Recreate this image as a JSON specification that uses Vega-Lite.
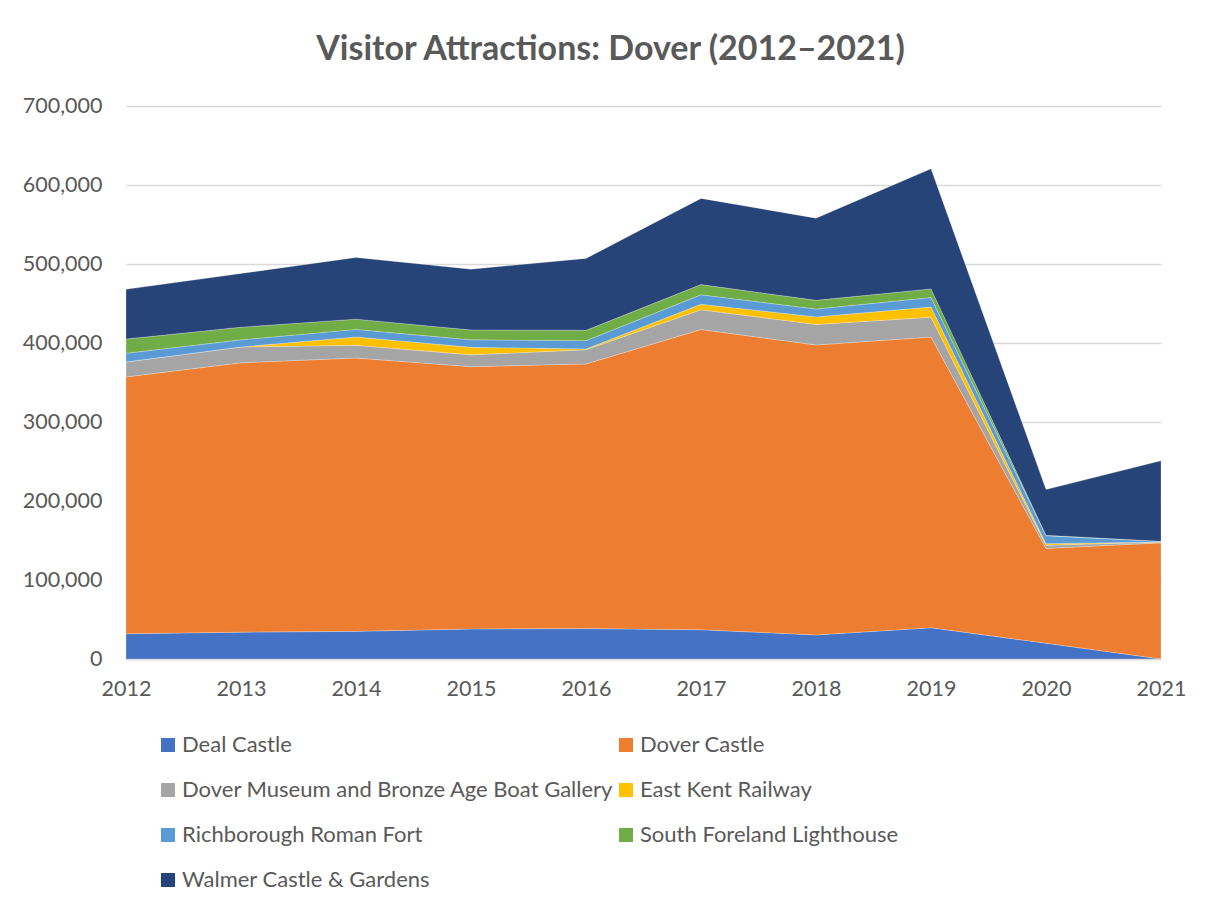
{
  "$schema": "https://vega.github.io/schema/vega-lite/v6.json",
  "autosize": {"type": "none"},
  "width": 1035,
  "height": 553,
  "padding": {"left": 126, "top": 106, "right": 49, "bottom": 249},
  "background": "white",
  "config": {"view": {"stroke": null}, "font": "Lato"},
  "title": {
    "text": "Visitor Attractions: Dover (2012–2021)",
    "anchor": "middle",
    "dx": -33,
    "offset": 1,
    "baseline": "alphabetic",
    "fontSize": 34,
    "fontWeight": "bold",
    "color": "#595959",
    "font": "Lato"
  },
  "data": {
    "values": [
      {"year": "2012", "attraction": "Deal Castle", "visitors": 32000},
      {"year": "2013", "attraction": "Deal Castle", "visitors": 34000},
      {"year": "2014", "attraction": "Deal Castle", "visitors": 35000},
      {"year": "2015", "attraction": "Deal Castle", "visitors": 38000},
      {"year": "2016", "attraction": "Deal Castle", "visitors": 38500},
      {"year": "2017", "attraction": "Deal Castle", "visitors": 37000},
      {"year": "2018", "attraction": "Deal Castle", "visitors": 30500},
      {"year": "2019", "attraction": "Deal Castle", "visitors": 39500},
      {"year": "2020", "attraction": "Deal Castle", "visitors": 20000},
      {"year": "2021", "attraction": "Deal Castle", "visitors": 0},
      {"year": "2012", "attraction": "Dover Castle", "visitors": 325000},
      {"year": "2013", "attraction": "Dover Castle", "visitors": 341000},
      {"year": "2014", "attraction": "Dover Castle", "visitors": 346000},
      {"year": "2015", "attraction": "Dover Castle", "visitors": 332000},
      {"year": "2016", "attraction": "Dover Castle", "visitors": 335000},
      {"year": "2017", "attraction": "Dover Castle", "visitors": 380000},
      {"year": "2018", "attraction": "Dover Castle", "visitors": 367000},
      {"year": "2019", "attraction": "Dover Castle", "visitors": 368000},
      {"year": "2020", "attraction": "Dover Castle", "visitors": 120000},
      {"year": "2021", "attraction": "Dover Castle", "visitors": 147000},
      {"year": "2012", "attraction": "Dover Museum and Bronze Age Boat Gallery", "visitors": 19000},
      {"year": "2013", "attraction": "Dover Museum and Bronze Age Boat Gallery", "visitors": 20000},
      {"year": "2014", "attraction": "Dover Museum and Bronze Age Boat Gallery", "visitors": 16000},
      {"year": "2015", "attraction": "Dover Museum and Bronze Age Boat Gallery", "visitors": 15000},
      {"year": "2016", "attraction": "Dover Museum and Bronze Age Boat Gallery", "visitors": 18000},
      {"year": "2017", "attraction": "Dover Museum and Bronze Age Boat Gallery", "visitors": 25000},
      {"year": "2018", "attraction": "Dover Museum and Bronze Age Boat Gallery", "visitors": 26000},
      {"year": "2019", "attraction": "Dover Museum and Bronze Age Boat Gallery", "visitors": 25000},
      {"year": "2020", "attraction": "Dover Museum and Bronze Age Boat Gallery", "visitors": 4000},
      {"year": "2021", "attraction": "Dover Museum and Bronze Age Boat Gallery", "visitors": 1000},
      {"year": "2012", "attraction": "East Kent Railway", "visitors": 0},
      {"year": "2013", "attraction": "East Kent Railway", "visitors": 0},
      {"year": "2014", "attraction": "East Kent Railway", "visitors": 10500},
      {"year": "2015", "attraction": "East Kent Railway", "visitors": 9500},
      {"year": "2016", "attraction": "East Kent Railway", "visitors": 1000},
      {"year": "2017", "attraction": "East Kent Railway", "visitors": 7000},
      {"year": "2018", "attraction": "East Kent Railway", "visitors": 9500},
      {"year": "2019", "attraction": "East Kent Railway", "visitors": 13000},
      {"year": "2020", "attraction": "East Kent Railway", "visitors": 2000},
      {"year": "2021", "attraction": "East Kent Railway", "visitors": 0},
      {"year": "2012", "attraction": "Richborough Roman Fort", "visitors": 11000},
      {"year": "2013", "attraction": "Richborough Roman Fort", "visitors": 9000},
      {"year": "2014", "attraction": "Richborough Roman Fort", "visitors": 9700},
      {"year": "2015", "attraction": "Richborough Roman Fort", "visitors": 9500},
      {"year": "2016", "attraction": "Richborough Roman Fort", "visitors": 10500},
      {"year": "2017", "attraction": "Richborough Roman Fort", "visitors": 12000},
      {"year": "2018", "attraction": "Richborough Roman Fort", "visitors": 10000},
      {"year": "2019", "attraction": "Richborough Roman Fort", "visitors": 12000},
      {"year": "2020", "attraction": "Richborough Roman Fort", "visitors": 10000},
      {"year": "2021", "attraction": "Richborough Roman Fort", "visitors": 1000},
      {"year": "2012", "attraction": "South Foreland Lighthouse", "visitors": 18000},
      {"year": "2013", "attraction": "South Foreland Lighthouse", "visitors": 16000},
      {"year": "2014", "attraction": "South Foreland Lighthouse", "visitors": 13000},
      {"year": "2015", "attraction": "South Foreland Lighthouse", "visitors": 12500},
      {"year": "2016", "attraction": "South Foreland Lighthouse", "visitors": 13000},
      {"year": "2017", "attraction": "South Foreland Lighthouse", "visitors": 13000},
      {"year": "2018", "attraction": "South Foreland Lighthouse", "visitors": 11000},
      {"year": "2019", "attraction": "South Foreland Lighthouse", "visitors": 11000},
      {"year": "2020", "attraction": "South Foreland Lighthouse", "visitors": 500},
      {"year": "2021", "attraction": "South Foreland Lighthouse", "visitors": 0},
      {"year": "2012", "attraction": "Walmer Castle & Gardens", "visitors": 63000},
      {"year": "2013", "attraction": "Walmer Castle & Gardens", "visitors": 68000},
      {"year": "2014", "attraction": "Walmer Castle & Gardens", "visitors": 78000},
      {"year": "2015", "attraction": "Walmer Castle & Gardens", "visitors": 77000},
      {"year": "2016", "attraction": "Walmer Castle & Gardens", "visitors": 91000},
      {"year": "2017", "attraction": "Walmer Castle & Gardens", "visitors": 109000},
      {"year": "2018", "attraction": "Walmer Castle & Gardens", "visitors": 104000},
      {"year": "2019", "attraction": "Walmer Castle & Gardens", "visitors": 152000},
      {"year": "2020", "attraction": "Walmer Castle & Gardens", "visitors": 58000},
      {"year": "2021", "attraction": "Walmer Castle & Gardens", "visitors": 102000}
    ]
  },
  "mark": {"type": "area", "stroke": "white", "strokeWidth": 0.4, "strokeOpacity": 0.6},
  "encoding": {
    "x": {
      "field": "year",
      "type": "ordinal",
      "scale": {"type": "point", "padding": 0},
      "axis": {
        "title": null,
        "labelAngle": 0,
        "labelFontSize": 21.5,
        "labelColor": "#595959",
        "labelPadding": 19,
        "ticks": false,
        "domainColor": "#D9D9D9",
        "domainWidth": 1.5,
        "grid": false
      }
    },
    "y": {
      "field": "visitors",
      "type": "quantitative",
      "stack": "zero",
      "scale": {"domain": [0, 700000], "nice": false},
      "axis": {
        "title": null,
        "values": [0, 100000, 200000, 300000, 400000, 500000, 600000, 700000],
        "format": ",.0f",
        "labelFontSize": 21.5,
        "labelColor": "#595959",
        "labelPadding": 24,
        "ticks": false,
        "domain": false,
        "grid": true,
        "gridColor": "#D9D9D9",
        "gridWidth": 1.3
      }
    },
    "color": {
      "field": "attraction",
      "type": "nominal",
      "scale": {
        "domain": ["Deal Castle", "Dover Castle", "Dover Museum and Bronze Age Boat Gallery", "East Kent Railway", "Richborough Roman Fort", "South Foreland Lighthouse", "Walmer Castle & Gardens"],
        "range": ["#4472C4", "#ED7D31", "#A5A5A5", "#FFC000", "#5B9BD5", "#70AD47", "#264478"]
      },
      "legend": {
        "title": null,
        "orient": "none",
        "legendX": 31,
        "legendY": 628,
        "columns": 2,
        "direction": "horizontal",
        "columnPadding": 1,
        "rowPadding": 23,
        "symbolType": "square",
        "symbolSize": 196,
        "symbolStrokeWidth": 0,
        "symbolOpacity": 1,
        "labelFontSize": 22,
        "labelColor": "#595959",
        "labelOffset": 3,
        "labelLimit": 600
      }
    },
    "order": {"field": "attraction", "sort": "ascending"}
  }
}
